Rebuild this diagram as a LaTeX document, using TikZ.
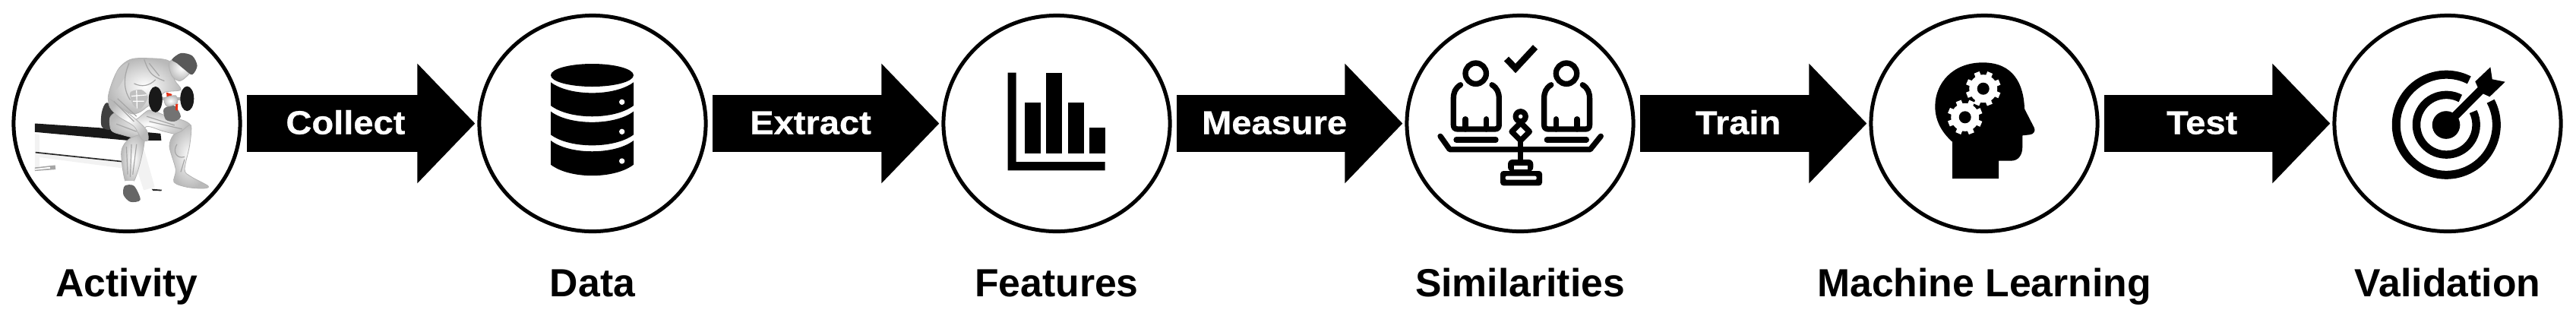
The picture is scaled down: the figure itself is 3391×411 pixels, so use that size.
\documentclass[tikz,border=0pt]{standalone}
\usepackage{fontspec}
\setmainfont{Liberation Sans}
\newfontfamily\arrowfont[FakeStretch=1.08,BoldFeatures={FakeBold=0.6}]{Liberation Sans}
\usetikzlibrary{arrows.meta,shapes.geometric}

\tikzset{
    stage/.style={draw, ellipse, line width=0.05cm, inner sep=0pt, minimum width=2.98cm, minimum height=2.84cm},
    stagetext/.style={anchor=base, inner sep=0pt, font=\fontsize{14.7}{16}\selectfont\bfseries},
    flow/.style={line width=0.75cm, -{Triangle[length=0.76cm,width=1.53cm]}, shorten <=0.065cm, shorten >=0.03cm},
    flowtext/.style={pos=0.44, anchor=base, yshift=-0.14cm, inner sep=0pt, text=white, font=\fontsize{12.4}{14}\arrowfont\bfseries},
    iconline/.style={line width=0.073cm, line cap=round, line join=round},
    bodyscale/.style={x=0.003333cm, y=-0.003333cm},
    muscle/.style={draw=gray!70, line width=0.012cm},
    skin/.style={inner color=white, outer color=gray!55, draw=gray!60, line width=0.008cm},
}

% one figure on the scale
\newcommand{\personicon}[1]{
    \begin{scope}[shift={(#1,0)}]
        \draw[iconline] (1942.7,-96.7) circle (13.7);
        \draw[iconline] (1922.5,-111.7) .. controls (1915.5,-116) and (1913.3,-122) .. (1913.3,-130)
        -- (1913.3,-164) .. controls (1913.3,-168) and (1915,-170) .. (1919,-170)
        -- (1967.5,-170) .. controls (1971.5,-170) and (1973.3,-168) .. (1973.3,-164)
        -- (1973.3,-130) .. controls (1973.3,-122) and (1971,-116) .. (1964,-111.7);
        \draw[iconline] (1929,-156.7) -- (1929,-170);
        \draw[iconline] (1956.7,-156.7) -- (1956.7,-170);
        \draw[iconline] (1917,-184) -- (1969,-184);
    \end{scope}
}

% one gear inside the head
\newcommand{\gearicon}[2]{
    \fill[white] (#1,#2) circle (18.5);
    \foreach \toothangle in {22,67,...,337}
        \draw[white, line width=0.075cm] (#1,#2) -- ++(\toothangle:23);
    \fill (#1,#2) circle (8);
}

\begin{document}
\begin{tikzpicture}[x=0.01cm, y=0.01cm]
    \useasboundingbox (0,0) rectangle (3391,-411);

    % Stages
    \node[stage] (activity) at (167,-162.5) {};
    \node[stage] (data) at (780,-162.5) {};
    \node[stage] (features) at (1391,-162.5) {};
    \node[stage] (similarities) at (2001,-162.5) {};
    \node[stage] (learning) at (2612,-162.5) {};
    \node[stage] (validation) at (3222,-162.5) {};

    % Stage names
    \node[stagetext] (activitytext) at (167,-390) {Activity};
    \node[stagetext] (datatext) at (780,-390) {Data};
    \node[stagetext] (featurestext) at (1391,-390) {Features};
    \node[stagetext] (similaritiestext) at (2001,-390) {Similarities};
    \node[stagetext] (learningtext) at (2612,-390) {Machine Learning};
    \node[stagetext] (validationtext) at (3222,-390) {Validation};

    % Arrows between stages
    \draw[flow] (activity.east) -- node[flowtext] (collect) {Collect} (data.west);
    \draw[flow] (data.east) -- node[flowtext] (extract) {Extract} (features.west);
    \draw[flow] (features.east) -- node[flowtext] (measure) {Measure} (similarities.west);
    \draw[flow] (similarities.east) -- node[flowtext] (train) {Train} (learning.west);
    \draw[flow] (learning.east) -- node[flowtext] (test) {Test} (validation.west);

    % Activity icon: man with dumbbell on a bench
    \begin{scope}[shift={(30,-50)}, bodyscale]
        % bench
        \fill[gray!10] (48,378) -- (66,382) -- (66,508) -- (48,525) -- cycle;
        \fill[gray!10] (52,452) -- (395,492) -- (395,515) -- (52,470) -- cycle;
        \fill[gray!10] (470,405) -- (522,590) -- (478,602) -- (450,515) -- cycle;
        \fill[gray!70] (48,512) -- (128,503) -- (130,520) -- (48,526) -- cycle;
        \fill[white] (48,517) -- (108,510) -- (108,516) -- (48,522) -- cycle;
        \fill[black!85] (50,450) -- (392,486) -- (392,491) -- (50,455) -- cycle;
        \fill[black!85] (510,597) -- (550,600) -- (548,605) -- (515,604) -- cycle;
        \fill[black!90] (48,338) -- (300,355) -- (545,378) -- (548,405) -- (425,406) -- (48,372) -- cycle;
        % shorts
        \fill[black!75] plot[smooth cycle] coordinates {(332,256) (312,295) (312,350) (345,362) (345,315) (380,290)};
        % torso
        \shade[skin] plot[smooth cycle] coordinates {(338,245) (350,185) (380,120) (425,85) (490,80) (580,92) (600,165) (625,205) (560,215) (530,255) (495,270) (465,292) (430,300) (375,268)};
        \fill[gray!50] plot[smooth cycle] coordinates {(425,215) (470,205) (495,235) (465,280) (435,262)};
        \draw[white, line width=0.012cm] (450,207) -- (452,278) (430,230) -- (490,225) (435,250) -- (480,250);
        \fill[gray!45] plot[smooth cycle] coordinates {(372,135) (415,98) (405,150) (368,205)};
        % near thigh
        \shade[skin] plot[smooth cycle] coordinates {(345,315) (375,295) (440,325) (500,285) (560,305) (640,328) (665,350) (640,385) (560,370) (490,350) (460,395) (390,382) (350,365)};
        % legs and feet
        \shade[skin] plot[smooth cycle] coordinates {(625,370) (665,345) (660,425) (640,520) (665,548) (733,585) (715,595) (650,590) (598,570) (605,520) (580,430) (595,385)};
        \shade[skin] plot[smooth cycle] coordinates {(420,400) (480,385) (470,470) (440,565) (405,565) (390,450)};
        \fill[white] (405,565) -- (440,565) -- (438,580) -- (403,578) -- cycle;
        \fill[black!60] plot[smooth cycle] coordinates {(403,585) (440,585) (465,640) (425,648) (398,620)};
        % hanging arm
        \shade[skin] plot[smooth cycle] coordinates {(340,240) (375,265) (445,320) (490,365) (495,405) (470,400) (440,350) (380,312) (345,275)};
        % muscle lines
        \draw[muscle] (420,100) .. controls (400,150) and (395,200) .. (425,245);
        \draw[muscle] (480,85) .. controls (500,140) and (510,150) .. (560,170);
        \draw[muscle] (440,180) .. controls (470,195) and (500,190) .. (525,165);
        \draw[muscle] (500,100) -- (540,150);
        \draw[muscle] (375,240) -- (450,310);
        \draw[muscle] (360,250) -- (440,330);
        \draw[muscle] (500,330) -- (630,360);
        \draw[muscle] (490,310) -- (600,345);
        \draw[muscle] (370,340) -- (450,370);
        \draw[muscle] (430,420) -- (425,550);
        \draw[muscle] (450,420) -- (435,540);
        \draw[muscle] (410,430) -- (415,540);
        \draw[muscle] (610,420) .. controls (590,450) and (610,480) .. (640,470);
        \draw[muscle] (640,480) -- (625,530);
        % head
        \shade[skin] plot[smooth cycle] coordinates {(580,95) (640,70) (680,110) (650,150) (620,170) (590,150)};
        \fill[black!65] plot[smooth cycle] coordinates {(590,85) (625,60) (670,70) (690,110) (670,145) (640,125) (610,100)};
        % forearm and hand
        \fill[black!55] plot[smooth cycle] coordinates {(558,280) (600,268) (625,310) (600,330) (565,322)};
        \fill[red!60!brown] (568,215) -- (590,222) -- (588,240) -- (570,236) -- cycle;
        \fill[red!60!brown] (604,260) -- (614,260) -- (612,288) -- (604,285) -- cycle;
        % dumbbell
        \fill[gray!60] (545,233) rectangle (630,247);
        \fill[black!90] (525,243) ellipse (27 and 51);
        \fill[black!90] (650,240) ellipse (27 and 49);
        \shade[skin] plot[smooth cycle] coordinates {(560,238) (605,228) (610,258) (570,270)};
    \end{scope}

    % Data icon: stacked cylinder
    \fill (779.5,-99) ellipse (54.5 and 15);
    \fill (725,-108.3) .. controls (750,-127) and (809,-127) .. (834,-108.3) -- (834,-139)
    .. controls (809,-158) and (750,-158) .. (725,-139) -- cycle;
    \fill (725,-146.7) .. controls (750,-165.5) and (809,-165.5) .. (834,-146.7) -- (834,-177.3)
    .. controls (809,-196) and (750,-196) .. (725,-177.3) -- cycle;
    \fill (725,-185) .. controls (750,-204) and (809,-204) .. (834,-185) -- (834,-216.7)
    .. controls (809,-236) and (750,-236) .. (725,-216.7) -- cycle;
    \fill[white] (818.7,-134.3) circle (3.7);
    \fill[white] (818.7,-173.3) circle (3.7);
    \fill[white] (818.7,-212) circle (3.7);

    % Features icon: bar chart
    \fill (1326.7,-95.7) -- (1337.7,-95.7) -- (1337.7,-213) -- (1454.7,-213) -- (1454.7,-224.3) -- (1326.7,-224.3) -- cycle;
    \fill (1349.3,-135) rectangle (1370,-201.7);
    \fill (1377.3,-95.7) rectangle (1398,-201.7);
    \fill (1406,-135) rectangle (1426.7,-201.7);
    \fill (1434,-167.7) rectangle (1454.7,-201.7);

    % Similarities icon: two people on a scale
    \personicon{0}
    \personicon{119.3}
    \draw[line width=0.085cm, line join=miter] (1983,-77.5) -- (1995,-90) -- (2021,-62);
    \draw[iconline] (1896,-179.3) -- (1908.3,-196.7) -- (2093.3,-196.7) -- (2107.3,-179.3);
    \draw[iconline] (2001.7,-153.3) circle (6.5);
    \draw[iconline, line cap=butt] (2001.7,-161.6) -- (2013.4,-173.3) -- (2001.7,-185) -- (1990,-173.3) -- cycle;
    \draw[iconline, line cap=butt] (2001.7,-185) -- (2001.7,-213);
    \fill[rounded corners=0.06cm] (1985,-226) -- (1985,-210) -- (2018.3,-210) -- (2018.3,-226) -- cycle;
    \fill[rounded corners=0.04cm] (1975,-244.3) -- (1975,-225) -- (2030,-225) -- (2030,-244.3) -- cycle;
    \fill[white] (1993.3,-218.3) rectangle (2011,-223.3);
    \fill[white, rounded corners=0.02cm] (1981.7,-231.7) rectangle (2022.7,-236.7);

    % Machine learning icon: head with gears
    \fill (2570,-235) -- (2631,-235) -- (2631,-211.7) -- (2646.7,-211.7)
    .. controls (2658,-211.7) and (2662.3,-203) .. (2662.3,-193) -- (2662.3,-178.3) -- (2671.7,-177.3)
    .. controls (2677,-177) and (2680,-172) .. (2677.7,-168) -- (2665,-143.3)
    .. controls (2664,-110) and (2650,-82.3) .. (2610,-82.3)
    .. controls (2570,-82.3) and (2547.3,-110) .. (2547.3,-140)
    .. controls (2547.3,-160) and (2557,-175) .. (2570,-186.7) -- cycle;
    \gearicon{2610.7}{-116.7}
    \gearicon{2586.7}{-154.3}

    % Validation icon: target with arrow
    \draw[line width=0.11cm] (3220.3,-164.2) ++(63:66) arc[start angle=63, end angle=388, radius=0.66cm];
    \draw[line width=0.105cm] (3220.3,-164.2) ++(62:39.3) arc[start angle=62, end angle=386, radius=0.393cm];
    \fill (3220,-164.5) circle (18.3);
    \draw[line width=0.11cm] (3220,-164.5) -- (3270,-114.3);
    \fill (3258.3,-107.3) -- (3278.3,-88.3) -- (3280.7,-104.3) -- (3297.7,-107.7) -- (3277.3,-127.3)
    -- (3267.3,-122.7) -- (3261.7,-115) -- cycle;
\end{tikzpicture}
\end{document}
